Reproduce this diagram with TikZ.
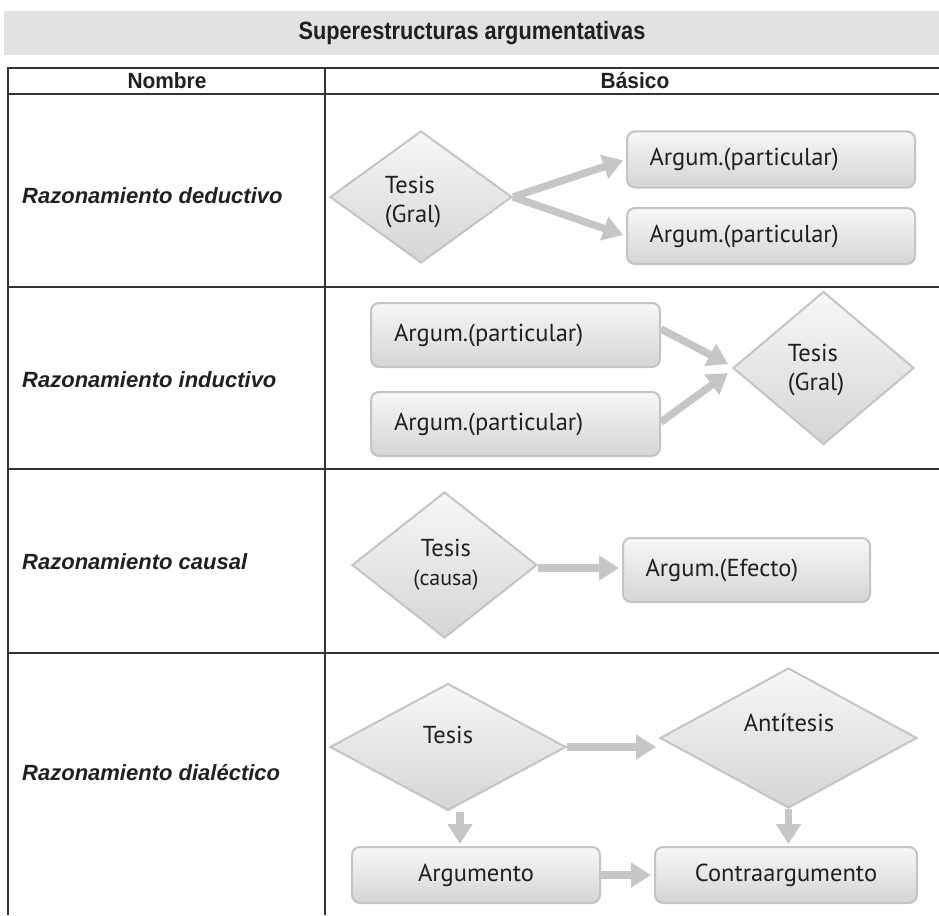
\documentclass[tikz,border=0pt]{standalone}
\usepackage{fontspec}
\setmainfont{Liberation Sans}
\newfontfamily\dfont{PT Sans}
\usetikzlibrary{shapes.geometric,arrows.meta,calc}
\definecolor{band}{HTML}{E1E2E4}
\definecolor{rule}{HTML}{333333}
\definecolor{edge}{HTML}{C4C4C4}
\definecolor{shtop}{HTML}{F7F7F7}
\definecolor{shbot}{HTML}{D5D5D5}
\definecolor{arr}{HTML}{C6C6C6}
\definecolor{ink}{HTML}{231F20}
\begin{document}
\begin{tikzpicture}[x=1pt,y=-1pt,
 rulel/.style={draw=rule,line width=1.6pt},
 rowlbl/.style={anchor=west,font=\fontsize{22}{26}\selectfont\bfseries\itshape,inner sep=0pt,text=ink},
 hdr/.style={font=\fontsize{22}{26}\selectfont\bfseries,inner sep=0pt,text=ink,xscale=0.95},
 argbox/.style={rectangle,rounded corners=8pt,draw=edge,line width=2pt,top color=shtop,bottom color=shbot,font=\dfont\fontsize{24.5}{29}\selectfont,text=ink,inner ysep=0pt},
 leftbox/.style={argbox,align=left,text width=#1,inner xsep=22pt},
 dia/.style={diamond,draw=edge,line width=2pt,top color=shtop,bottom color=shbot,inner sep=0pt},
 dtxt/.style={font=\dfont\fontsize{24.5}{29}\selectfont,text=ink,inner sep=0pt},
 conn/.style={draw=arr,line width=7.5pt,-{Triangle[length=20pt,width=24pt]}},
]
\useasboundingbox (0,0) rectangle (939,915);
% title band
\fill[band] (4,11) rectangle (939,55);
\node[font=\fontsize{25}{29}\selectfont\bfseries,text=ink,inner sep=0pt,xscale=0.87] (title) at (472,33) {Superestructuras argumentativas};
% table rules
\foreach \yy in {68,94,287,469,653} \draw[rulel] (8,\yy) -- (939,\yy);
\draw[rulel] (8,67.2) -- (8,915);
\draw[rulel] (325,67.2) -- (325,915);
% headers
\node[hdr] (hn) at (167,81) {Nombre};
\node[hdr] (hb) at (635,81) {Básico};
% row labels
\node[rowlbl] (r1) at (22,196) {Razonamiento deductivo};
\node[rowlbl] (r2) at (22,380) {Razonamiento inductivo};
\node[rowlbl] (r3) at (22,562) {Razonamiento causal};
\node[rowlbl] (r4) at (22,773) {Razonamiento dialéctico};
% row 1
\node[dia,minimum width=182pt,minimum height=132pt] (d1) at (421,197) {};
\node[dtxt,align=left] (t1) at (413,202) {Tesis\\(Gral)};
\node[leftbox=243pt,minimum width=288pt,minimum height=56pt] (a1) at (771,159.5) {Argum.(particular)};
\node[leftbox=243pt,minimum width=288pt,minimum height=56pt] (a2) at (771,236) {Argum.(particular)};
\draw[conn,shorten >=3pt] (d1.east) -- (a1.west);
\draw[conn,shorten >=3pt] (d1.east) -- (a2.west);
% row 2
\node[leftbox=243pt,minimum width=289pt,minimum height=64pt] (b1) at (515.5,335) {Argum.(particular)};
\node[leftbox=243pt,minimum width=289pt,minimum height=64pt] (b2) at (515.5,424) {Argum.(particular)};
\node[dia,minimum width=181pt,minimum height=153pt] (d2) at (823.5,368) {};
\node[dtxt,align=left] (t2) at (816,370) {Tesis\\(Gral)};
\draw[conn] ($(b1.east)+(0,-6)$) -- ($(d2.west)+(-4,-4)$);
\draw[conn] ($(b2.east)+(0,-2)$) -- ($(d2.west)+(-4,5)$);
% row 3
\node[dia,minimum width=185pt,minimum height=146pt] (d3) at (444.5,565) {};
\node[dtxt,align=center] (t3) at (446,565) {Tesis\\{\fontsize{22}{26}\selectfont(causa)}};
\node[leftbox=202pt,minimum width=247pt,minimum height=64pt] (c1) at (746.5,570) {Argum.(Efecto)};
\draw[conn,shorten >=3pt] ($(d3.east)+(0,3)$) -- ($(d3.east -| c1.west)+(0,3)$);
% row 4
\node[dia,minimum width=236pt,minimum height=127pt] (d4) at (448,747) {};
\node[dtxt] (t4) at (448,735) {Tesis};
\node[dia,minimum width=257pt,minimum height=140pt] (d5) at (788.5,738) {};
\node[dtxt] (t5) at (789,723) {Antítesis};
\node[argbox,minimum width=248pt,minimum height=56pt] (g1) at (476,875) {Argumento};
\node[argbox,minimum width=262pt,minimum height=56pt] (g2) at (786,875) {Contraargumento};
\coordinate (s4) at ($(d4.south)+(12,0)$);
\draw[conn,shorten >=3pt] (d4.east) -- (d4.east -| d5.west);
\draw[conn,shorten >=2pt] (s4) -- (s4 |- g1.north);
\draw[conn,shorten >=2pt] (d5.south) -- (d5.south |- g2.north);
\draw[conn,shorten >=3pt] (g1.east) -- (g2.west);
\end{tikzpicture}
\end{document}
